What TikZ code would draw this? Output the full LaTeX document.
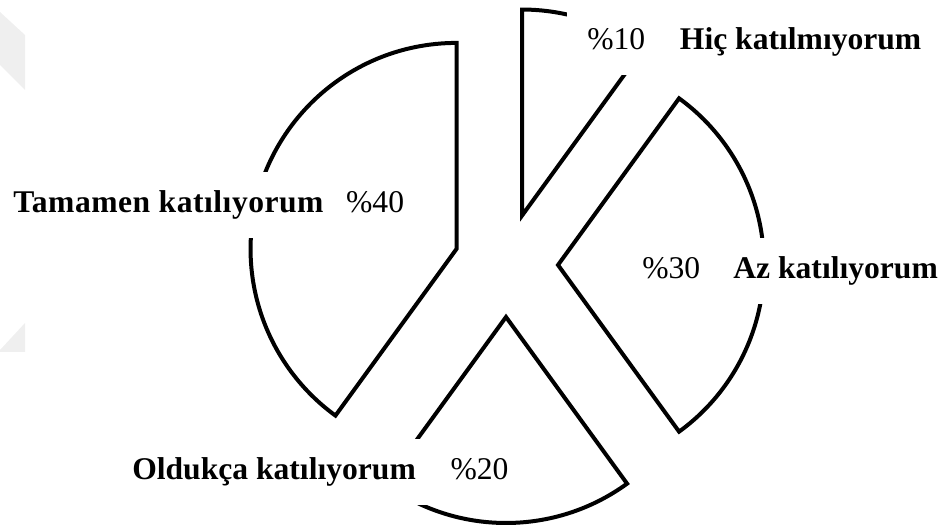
\documentclass[tikz,border=0pt]{standalone}
\usepackage{fontspec}
\setmainfont{Liberation Serif}
\usetikzlibrary{positioning}
\definecolor{markgray}{HTML}{EFEFEF}
\tikzset{%
	every slice/.style={
		draw=black,
		line width=3pt
	},
	slice label/.style={
		fill=white,
		inner xsep=15pt,
		inner ysep=0pt,
		text height=30.75pt,
		text depth=18.75pt,
		anchor=base west,
		font=\fontsize{23.7}{28}\selectfont
	},
}

\begin{document}
\begin{tikzpicture}[x=0.75pt, y=0.75pt]
	\useasboundingbox (0,0) rectangle (940,531);
	
	% faint marks on the left edge
	\fill [markgray] (0,519) -- (25,496) -- (25,441) -- (0,466) -- cycle;
	\fill [markgray] (0,181) -- (25,208) -- (25,179) -- (0,179) -- cycle;
	
	\coordinate (pie) at (506,266);
	
	\foreach \a/\b/\n in {54/90/hic, -54/54/az, -126/-54/oldukca, 90/234/tamamen}
	\draw [every slice, shift={(pie)}, shift={({(\a+\b)/2}:52)}]
	(0,0) coordinate (apex-\n) -- (\a:206)
	arc [start angle=\a, end angle=\b, radius=206] -- cycle;
	
	\node [slice label] (label-hic) at (567,481)
	{\%10\hspace{1.1em}\textbf{Hiç katılmıyorum}};
	\node [slice label] (label-az) at (622,252)
	{\%30\hspace{1.05em}\textbf{Az katılıyorum}};
	\node [slice label] (label-tamamen) at (-7,318)
	{{\addfontfeature{LetterSpace=1.6}\textbf{Tamamen katılıyorum}}\hspace{0.7em}\%40};
	\node [slice label] (label-oldukca) at (112,51)
	{\textbf{Oldukça katılıyorum}\hspace{1.1em}\%20};
	
\end{tikzpicture}
\end{document}
